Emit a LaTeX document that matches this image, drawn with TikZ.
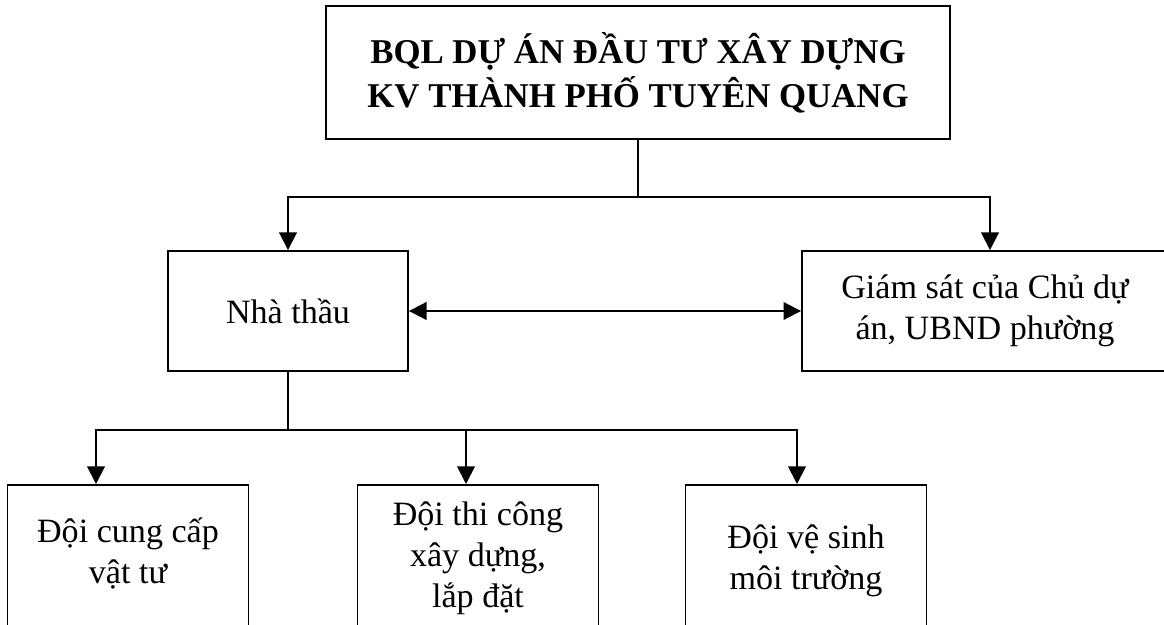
\documentclass[tikz,border=0pt]{standalone}
\usepackage{fontspec}
\setmainfont{Liberation Serif}
\usetikzlibrary{arrows.meta}
\begin{document}
\begin{tikzpicture}[x=0.02cm, y=-0.02cm, line width=1.1pt,
      font=\fontsize{19.4pt}{23.3pt}\selectfont,
      box/.style = {draw, align=center, minimum width=#1, minimum height=2.4cm},
      team/.style = {draw, anchor=north, align=flush center, text width=4.82cm, inner sep=0pt, text height=#1, text depth=3cm},
      tip/.style = {Triangle[length=10pt, width=10pt]},
      arr/.style = {-{Triangle[length=10pt, width=10pt]}}]
      \useasboundingbox (0,0) rectangle (1164,625);

      \node[draw, align=center, minimum width=12.48cm, minimum height=2.66cm,
            font=\fontsize{19.8pt}{25pt}\selectfont\bfseries] (bql) at (638,72.5)
            {BQL DỰ ÁN ĐẦU TƯ XÂY DỰNG\\KV THÀNH PHỐ TUYÊN QUANG};
      \node[box=4.8cm] (nt) at (288,311) {Nhà thầu};
      \node[box=7.32cm] (gs) at (985,311) {Giám sát của Chủ dự\\án, UBND phường};

      \node[team=1.16cm] (t1) at (128,484) {Đội cung cấp\\vật tư};
      \node[team=0.82cm] (t2) at (478,484) {Đội thi công\\xây dựng,\\lắp đặt};
      \node[team=1.28cm] (t3) at (806,484) {Đội vệ sinh\\môi trường};

      \coordinate (s1) at (638,197);
      \coordinate (s2) at (288,430);

      \draw[-] (bql.south) to (s1);
      \draw[arr] (s1) -| (nt.north);
      \draw[arr] (s1) -| ([xshift=0.1cm]gs.north);
      \draw[{Triangle[length=10pt, width=10pt]}-{Triangle[length=10pt, width=10pt]}] (nt.east) to (gs.west);

      \draw[-] (nt.south) to (s2);
      \draw[arr] (s2) -| ([xshift=-0.64cm]t1.north);
      \draw[arr] (s2) -| ([xshift=-0.24cm]t2.north);
      \draw[arr] (s2) -| ([xshift=-0.18cm]t3.north);
\end{tikzpicture}
\end{document}
